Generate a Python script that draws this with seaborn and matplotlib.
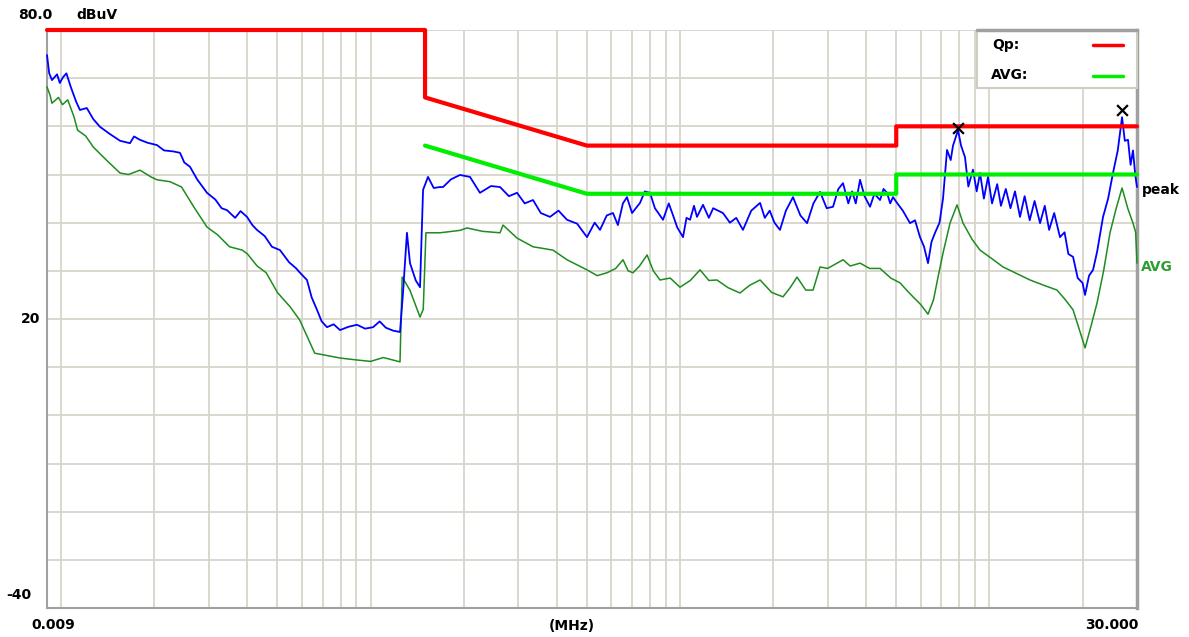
import matplotlib
matplotlib.use("Agg")
import matplotlib.pyplot as plt
import seaborn as sns
import pandas as pd
from matplotlib.ticker import FixedLocator, NullFormatter
from matplotlib.patches import Rectangle

# ---------------- data (MHz, dBuV) ----------------
freq_peak = [0.009, 0.00915, 0.00934, 0.0097, 0.0099, 0.01014, 0.0104, 0.0107, 0.01092, 0.0112,
             0.0115, 0.0121, 0.0127, 0.01335, 0.0143, 0.0155, 0.01669, 0.0172, 0.01798, 0.0190,
             0.02041, 0.0215, 0.0230, 0.02422, 0.0250, 0.02609, 0.0275, 0.0296, 0.0315, 0.0330,
             0.03435, 0.0365, 0.0380, 0.03987, 0.0415, 0.04294, 0.0455, 0.0480, 0.05097, 0.0545,
             0.0575, 0.05915, 0.0623, 0.0645, 0.06713, 0.0695, 0.07231, 0.0760, 0.07966, 0.0850,
             0.0904, 0.0960, 0.1019, 0.1070, 0.1120, 0.1180, 0.1245, 0.1273, 0.1311, 0.1341,
             0.1400, 0.1445, 0.1478, 0.1533, 0.160, 0.1677, 0.1715, 0.182, 0.1945, 0.2096,
             0.2257, 0.245, 0.2621, 0.280, 0.2974, 0.315, 0.335, 0.355, 0.380, 0.405,
             0.4314, 0.465, 0.5007, 0.53, 0.5515, 0.58, 0.6075, 0.63, 0.654, 0.674,
             0.70, 0.7427, 0.77, 0.800, 0.83, 0.8815, 0.92, 0.95, 0.98, 1.023,
             1.05, 1.078, 1.11, 1.135, 1.187, 1.24, 1.28, 1.377, 1.45, 1.52,
             1.598, 1.70, 1.815, 1.88, 1.95, 2.02, 2.105, 2.2, 2.319, 2.45,
             2.575, 2.7, 2.836, 2.98, 3.124, 3.25, 3.365, 3.5, 3.6, 3.7,
             3.819, 3.95, 4.114, 4.25, 4.432, 4.55, 4.668, 4.78, 4.881, 5.03,
             5.25, 5.54, 5.75, 5.968, 6.15, 6.333, 6.5, 6.674, 6.9, 7.082,
             7.297, 7.5, 7.629, 7.92, 8.1, 8.34, 8.55, 8.85, 9.1, 9.33,
             9.6, 9.9, 10.2, 10.6, 10.9, 11.3, 11.7, 12.1, 12.56, 13.0,
             13.5, 14.0, 14.58, 15.1, 15.6, 16.2, 16.91, 17.5, 18.0, 18.64,
             19.3, 20.0, 20.38, 21.0, 21.63, 22.3, 23.3, 24.2, 25.09, 26.0,
             26.84, 27.4, 28.06, 28.6, 29.12, 29.6, 30.0]
peak_dbuv = [74.8, 71.0, 69.6, 70.8, 69.0, 70.2, 71.0, 68.5, 66.9, 65.0,
             63.4, 63.8, 61.5, 59.9, 58.5, 57.0, 56.5, 57.9, 57.2, 56.6,
             56.1, 55.0, 54.8, 54.5, 52.5, 51.6, 49.0, 46.2, 44.8, 43.0,
             42.6, 41.0, 42.4, 41.2, 39.5, 38.5, 37.2, 35.0, 34.3, 31.8,
             30.5, 29.6, 28.1, 24.5, 21.9, 19.5, 18.3, 18.9, 17.7, 18.4,
             18.8, 18.0, 18.3, 19.5, 18.2, 17.6, 17.3, 25.4, 37.9, 31.6,
             28.0, 26.6, 46.8, 49.5, 47.2, 47.4, 47.4, 49.0, 49.9, 49.5,
             46.2, 47.6, 47.4, 45.5, 46.2, 44.0, 44.7, 42.0, 41.2, 42.5,
             40.6, 39.8, 37.0, 40.0, 38.5, 41.5, 42.0, 39.5, 44.0, 45.3,
             42.0, 44.1, 46.5, 46.2, 43.0, 40.6, 44.0, 41.5, 39.0, 37.0,
             41.0, 40.6, 43.5, 41.2, 43.7, 41.0, 43.0, 42.0, 40.0, 41.0,
             38.5, 42.5, 44.1, 41.0, 42.5, 40.0, 38.5, 42.5, 45.3, 41.5,
             39.9, 44.0, 46.4, 43.0, 43.3, 47.0, 48.2, 44.0, 46.5, 44.0,
             48.9, 45.5, 43.3, 46.0, 44.7, 47.0, 46.2, 44.0, 45.3, 44.1,
             42.5, 39.9, 40.5, 37.0, 35.0, 31.6, 36.0, 37.9, 40.0, 45.0,
             55.1, 53.0, 56.0, 59.2, 56.0, 53.6, 47.5, 51.0, 46.5, 50.3,
             45.0, 49.5, 44.0, 48.0, 43.5, 47.0, 43.0, 46.5, 41.2, 45.5,
             40.5, 44.5, 39.9, 43.5, 38.5, 42.0, 37.0, 38.0, 33.5, 32.9,
             28.5, 27.5, 25.0, 29.0, 30.2, 34.0, 41.2, 45.0, 50.3, 55.0,
             61.9, 57.0, 57.2, 52.0, 55.0, 50.0, 47.4]

freq_avg = [0.009, 0.0092, 0.00934, 0.0098, 0.0101, 0.0105, 0.0110, 0.0113, 0.0120, 0.0127,
            0.0140, 0.0155, 0.0165, 0.01798, 0.0195, 0.02041, 0.0225, 0.0245, 0.0270, 0.0296,
            0.0320, 0.0350, 0.0385, 0.0400, 0.0430, 0.0460, 0.0500, 0.0550, 0.0590, 0.0660,
            0.0797, 0.0900, 0.1000, 0.1100, 0.1245, 0.1265, 0.1340, 0.1445, 0.1480, 0.1510,
            0.1677, 0.1945, 0.205, 0.230, 0.2621, 0.268, 0.2974, 0.335, 0.3887, 0.4314,
            0.5007, 0.54, 0.581, 0.62, 0.6545, 0.68, 0.705, 0.74, 0.783, 0.82,
            0.862, 0.93, 1.0, 1.08, 1.161, 1.24, 1.317, 1.43, 1.563, 1.68,
            1.815, 1.98, 2.153, 2.27, 2.390, 2.55, 2.692, 2.836, 3.0, 3.2,
            3.365, 3.55, 3.819, 4.1, 4.432, 4.8, 5.144, 5.4, 5.666, 6.0,
            6.333, 6.6, 6.824, 7.1, 7.461, 7.862, 8.22, 8.8, 9.327, 10.2,
            11.07, 12.2, 13.53, 15.0, 16.54, 17.6, 18.64, 19.6, 20.38, 21.3,
            22.28, 23.4, 24.54, 25.7, 26.84, 28.0, 29.12, 29.7, 30.0]
avg_dbuv = [68.2, 66.5, 64.8, 66.0, 64.5, 65.5, 62.0, 59.2, 58.0, 55.7,
            53.0, 50.3, 50.0, 50.9, 49.5, 48.9, 48.5, 47.4, 43.0, 39.1,
            37.5, 35.0, 34.3, 33.5, 31.0, 29.6, 25.5, 22.5, 19.8, 12.9,
            11.9, 11.5, 11.2, 12.0, 11.1, 28.7, 26.0, 20.4, 22.0, 37.9,
            37.9, 38.4, 38.9, 38.2, 37.9, 39.5, 36.8, 35.0, 34.3, 32.3,
            30.2, 29.0, 29.6, 30.5, 32.3, 30.0, 29.6, 31.0, 33.3, 30.0,
            28.1, 28.5, 26.6, 28.0, 30.2, 28.0, 28.1, 26.5, 25.4, 27.0,
            28.1, 25.5, 24.6, 26.5, 28.7, 26.0, 26.0, 30.8, 30.5, 31.5,
            32.3, 31.0, 31.6, 30.5, 30.5, 28.5, 27.5, 26.0, 24.6, 23.0,
            21.0, 24.0, 28.7, 34.0, 39.9, 43.7, 39.9, 36.5, 34.3, 32.5,
            30.8, 29.5, 28.1, 27.0, 26.0, 24.0, 21.9, 17.5, 14.0, 18.5,
            23.3, 30.0, 37.9, 43.0, 47.2, 43.0, 39.9, 38.0, 31.6]

qp_limit_freq = [0.009, 0.15, 0.15, 0.5, 5.0, 5.0, 30.0]
qp_limit_dbuv = [80, 80, 66, 56, 56, 60, 60]
avg_limit_freq = [0.15, 0.5, 5.0, 5.0, 30.0]
avg_limit_dbuv = [56, 46, 46, 50, 50]

marker_freq = [7.92, 26.84]
marker_dbuv = [59.7, 63.4]

y_tick_values = [80, 20, -40]
y_tick_labels = ["80.0", "20", "-40"]

# ---------------- figure ----------------
sns.set_style("white")
plt.rcParams['font.family'] = ['DejaVu Sans']
plt.rcParams['text.color'] = 'black'

W, H = 1189, 637
fig = plt.figure(figsize=(W / 100, H / 100), dpi=100)
L, R, T, B = 47, 1137, 30, 608
ax = fig.add_axes([L / W, 1 - B / H, (R - L) / W, (B - T) / H])

ax.set_xscale('log')
ax.set_xlim(0.009, 30)
ax.set_ylim(-40, 80)

grid_col = "#d8d4cc"
vgrid = [m * 10.0 ** e for e in (-2, -1, 0, 1) for m in range(1, 10) if 0.009 < m * 10.0 ** e < 30]
ax.xaxis.set_major_locator(FixedLocator(vgrid))
ax.xaxis.set_minor_locator(FixedLocator([]))
ax.xaxis.set_major_formatter(NullFormatter())
ax.yaxis.set_major_locator(FixedLocator(list(range(-40, 81, 10))))
ax.yaxis.set_major_formatter(NullFormatter())
ax.tick_params(length=0)
ax.grid(True, color=grid_col, linewidth=1.3)
ax.set_axisbelow(True)

ax.spines["top"].set_visible(False)
ax.spines["left"].set_color("#a0a0a0")
ax.spines["left"].set_linewidth(1.5)
ax.spines["bottom"].set_color("#a0a0a0")
ax.spines["bottom"].set_linewidth(1.5)
ax.spines["right"].set_color("#a0a0a0")
ax.spines["right"].set_linewidth(2.5)

df_peak = pd.DataFrame({"f": freq_peak, "v": peak_dbuv})
df_avg = pd.DataFrame({"f": freq_avg, "v": avg_dbuv})
df_qp = pd.DataFrame({"f": qp_limit_freq, "v": qp_limit_dbuv})
df_al = pd.DataFrame({"f": avg_limit_freq, "v": avg_limit_dbuv})

sns.lineplot(data=df_avg, x="f", y="v", ax=ax, color="#1e8c1e", linewidth=1.1,
             sort=False, estimator=None, zorder=3)
sns.lineplot(data=df_peak, x="f", y="v", ax=ax, color="#0000ff", linewidth=1.3,
             sort=False, estimator=None, zorder=4)
sns.lineplot(data=df_al, x="f", y="v", ax=ax, color="#00ee00", linewidth=3,
             sort=False, estimator=None, zorder=5)
sns.lineplot(data=df_qp, x="f", y="v", ax=ax, color="#ff0000", linewidth=3,
             sort=False, estimator=None, zorder=6)
for ln in ax.lines:
    ln.set_clip_on(False)
ax.scatter(marker_freq, marker_dbuv, marker="x", s=60, color="black", linewidths=1.6, zorder=7)
ax.set_xlabel("")
ax.set_ylabel("")

# legend box
box_l = (977 - L) / (R - L)
box_b = (B - 88) / (B - T)
ax.add_patch(Rectangle((box_l, box_b), 1 - box_l, 1 - box_b, transform=ax.transAxes,
                       facecolor="white", edgecolor="#d0ccc4", linewidth=1.5, zorder=8, clip_on=False))
ax.plot([box_l, 1], [1, 1], transform=ax.transAxes, color="#a0a0a0", lw=2.5, zorder=9, clip_on=False)

def fx(px):
    return px / W

def fy(py):
    return 1 - py / H

fs = 10
fw = "bold"
tc = "black"
fig.text(fx(992), fy(45), "Qp:", fontsize=fs, fontweight=fw, va="center", ha="left", zorder=10, color=tc)
fig.text(fx(991), fy(75), "AVG:", fontsize=fs, fontweight=fw, va="center", ha="left", zorder=10, color=tc)
fig.add_artist(plt.Line2D([fx(1093), fx(1123)], [fy(45), fy(45)], color="#ff0000", lw=2.5, zorder=10))
fig.add_artist(plt.Line2D([fx(1093), fx(1123)], [fy(76), fy(76)], color="#00ee00", lw=2.5, zorder=10))

# axis texts
fig.text(fx(35), fy(15), y_tick_labels[0], fontsize=fs, fontweight=fw, ha="center", va="center", color=tc)
fig.text(fx(97), fy(15), "dBuV", fontsize=fs, fontweight=fw, ha="center", va="center", color=tc)
y20 = T + (80 - y_tick_values[1]) / 120 * (B - T)
fig.text(fx(31), fy(y20), y_tick_labels[1], fontsize=fs, fontweight=fw, ha="center", va="center", color=tc)
fig.text(fx(19), fy(595), y_tick_labels[2], fontsize=fs, fontweight=fw, ha="center", va="center", color=tc)
fig.text(fx(53), fy(625), "0.009", fontsize=fs, fontweight=fw, ha="center", va="center", color=tc)
fig.text(fx(572), fy(626), "(MHz)", fontsize=fs, fontweight=fw, ha="center", va="center", color=tc)
fig.text(fx(1112), fy(625), "30.000", fontsize=fs, fontweight=fw, ha="center", va="center", color=tc)
fig.text(fx(1142), fy(190), "peak", fontsize=fs, fontweight=fw, ha="left", va="center", color=tc)
fig.text(fx(1141), fy(267), "AVG", fontsize=fs, fontweight=fw, ha="left", va="center", color="#2e9e2e")

fig.savefig("out.png", dpi=100, facecolor="white")
